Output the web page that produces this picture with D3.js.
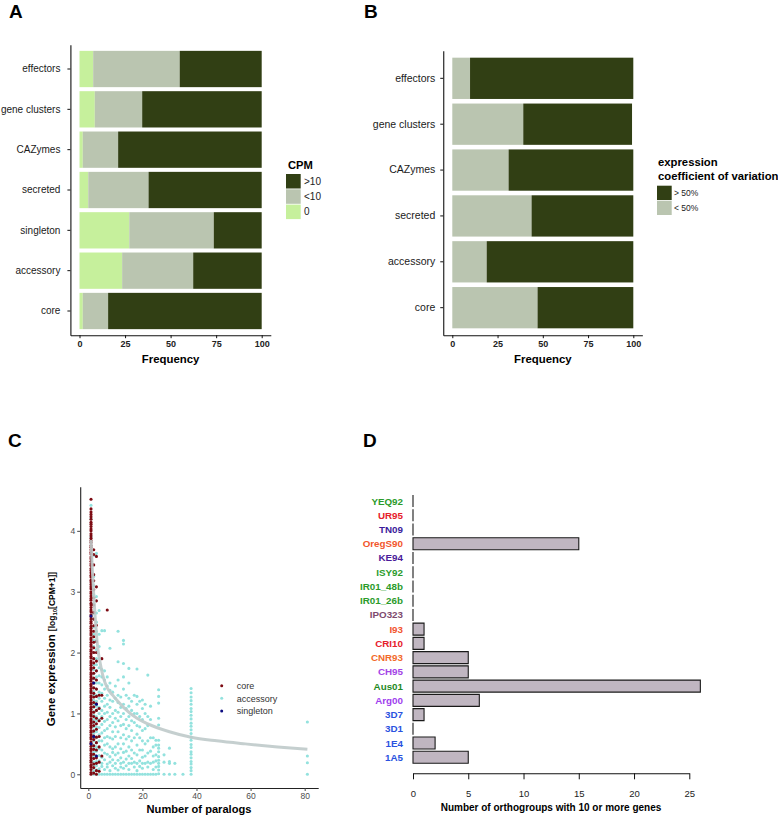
<!DOCTYPE html>
<html><head><meta charset="utf-8">
<script src="https://cdn.jsdelivr.net/npm/d3@7"></script>
<style>
body{margin:0;background:#fff}
svg{display:block}
text{font-family:"Liberation Sans",Arial,Helvetica,sans-serif}
</style>
</head><body>
<svg id="c" width="778" height="817"></svg>
<script>
// ---------------- DATA ----------------
// Panel A
const catsA = ["effectors","gene clusters","CAZymes","secreted","singleton","accessory","core"];
const cpmZero = [7.5, 8.4, 1.8, 4.8, 27.3, 23.4, 1.8];
const cpmLow  = [47.5, 26.0, 19.4, 33.1, 46.4, 39.0, 13.9];
const cpmHigh = [45.0, 65.6, 78.8, 62.1, 26.3, 37.6, 84.3];
const cpmLegend = [">10","<10","0"];
const freqTicks = [0,25,50,75,100];
// Panel B
const catsB = ["effectors","gene clusters","CAZymes","secreted","accessory","core"];
const cvLow  = [9.8, 39.2, 31.1, 43.8, 19.0, 47.1];
const cvHigh = [90.2, 60.1, 68.9, 56.2, 81.0, 52.9];
const cvLegend = ["> 50%","< 50%"];
// Panel C  (x = number of paralogs, y = log10(CPM+1))
const coreCols = [
  [1,[0,0.03,0.08,0.12,0.15,0.2,0.23,0.27,0.31,0.34,0.39,0.42,0.46,0.5,0.53,0.58,0.61,0.65,0.69,0.72,0.77,0.8,0.84,0.88,0.91,0.96,0.99,1.03,1.07,1.1,1.15,1.18,1.22,1.26,1.29,1.34,1.37,1.41,1.45,1.48,1.53,1.56,1.6,1.64,1.67,1.72,1.75,1.79,1.83,1.86,1.91,1.94,1.98,2.02,2.05,2.1,2.13,2.17,2.21,2.24,2.29,2.32,2.36,2.4,2.43,2.48,2.51,2.55,2.59,2.62,2.67,2.7,2.74,2.78,2.81,2.86,2.89,2.93,2.97,3.0,3.05,3.08,3.12,3.16,3.19,3.24,3.27,3.31,3.35,3.38,3.43,3.46,3.5,3.54,3.57,3.62,3.65,3.69,3.73,3.76,3.81,3.84,3.88,3.92,3.95,4.0,4.03,4.07,4.11,4.14,4.19,4.23,4.27,4.31,4.36,4.52]],
  [2,[0.02,0.11,0.17,0.26,0.33,0.41,0.47,0.57,0.63,0.71,0.8,0.86,0.95,1.02,1.11,1.18,1.27,1.33,1.42,1.5,1.58,1.66,1.75,1.83,1.9,2.0,2.08,2.17,2.26,2.35,2.44,2.55,2.66,2.78,2.9,3.03,3.18,3.28,3.44,3.61,3.69]],
  [3,[0,0.06,0.18,0.27,0.4,0.52,0.61,0.74,0.83,0.92,1.05,1.16,1.28,1.4,1.55,1.7,1.86,2.0,2.18,2.45,2.85,3.08,3.58]],
  [4,[0.05,0.2,0.45,0.62,0.88,1.08,1.3]],
  [5,[0.3,0.92,1.3,1.9]],
  [7,[2.7]]
];
const accessoryCols = [
  [1,[4.42,4.2,3.9]],
  [2,[0,0.05,0.1,0.16,0.2,0.27,0.3,0.36,0.43,0.48,0.55,0.6,0.67,0.72,0.78,0.85,0.9,0.97,1.03,1.1,1.15,1.22,1.3,1.36,1.42,1.5,1.57,1.65,1.72,1.8,1.9,2.0,2.1,2.2,2.3,2.42,2.55,2.64,2.8,2.95,3.1,3.25,3.6]],
  [3,[0,0.07,0.14,0.21,0.3,0.38,0.45,0.52,0.6,0.7,0.78,0.88,0.95,1.05,1.12,1.2,1.3,1.4,1.5,1.6,1.7,1.8,1.9,2.05,2.2,2.35,2.5,2.65,2.92,3.63]],
  [4,[0,0.09,0.22,0.31,0.42,0.55,0.65,0.77,0.9,1.0,1.1,1.25,1.35,1.5,1.62,1.75,1.9,2.1,2.3,2.69]],
  [5,[0,0.13,0.18,0.28,0.4,0.55,0.68,0.82,0.95,1.05,1.2,1.33,1.47,1.6,1.72,2.36]],
  [6,[0,0.08,0.24,0.35,0.48,0.6,0.72,0.87,1.0,1.12,1.25,1.4,1.55,1.7,2.36]],
  [7,[0,0.12,0.17,0.33,0.5,0.62,0.75,0.9,1.02,1.15,1.3,1.45,1.6]],
  [8,[0,0.06,0.2,0.29,0.45,0.6,0.8,0.95,1.1,1.22,1.38,1.5,2.07]],
  [9,[0,0.14,0.24,0.36,0.42,0.58,0.7,0.85,1.0,1.2,1.35]],
  [10,[0,0.1,0.18,0.32,0.45,0.62,0.78,0.92,1.05,1.25,1.45]],
  [11,[0,0.07,0.23,0.35,0.5,0.7,0.88,1.02,1.18,1.3,1.55,1.85,2.35]],
  [12,[0,0.12,0.18,0.27,0.42,0.6,0.8,0.95,1.1,1.27]],
  [13,[0,0.1,0.2,0.36,0.5,0.65,0.82,1.0,1.15,1.4,1.6,1.82,2.14,2.2]],
  [14,[0,0.14,0.25,0.38,0.58,0.75,0.9,1.08,1.3]],
  [15,[0,0.08,0.18,0.3,0.45,0.62,0.8,0.95,1.12,1.25,1.5,1.74]],
  [16,[0,0.18,0.26,0.4,0.55,0.72,0.88,1.05,1.2]],
  [17,[0,0.12,0.2,0.35,0.6,0.85,1.0,1.3]],
  [18,[0,0.06,0.18,0.32,0.48,0.66,0.8,1.0,1.15,1.28,1.73]],
  [19,[0,0.13,0.22,0.4,0.6,0.78,0.95,1.2]],
  [20,[0,0.1,0.18,0.28,0.4,0.55,0.72,0.9,1.08,1.22]],
  [21,[0,0.18,0.3,0.5,0.75,1.0,1.15]],
  [22,[0,0.12,0.2,0.35,0.55,0.8,0.95,1.63]],
  [23,[0,0.18,0.38,0.6,0.9,1.12]],
  [24,[0,0.08,0.2,0.3,0.45,0.6]],
  [25,[0,0.12,0.22,0.32,0.48,0.56]],
  [26,[0.01,0.07,0.13,0.18,0.23,0.29,0.37,0.43,0.48,0.56,0.81,0.92,1.17,1.28,1.39]],
  [28,[0,0.2,0.32]],
  [30,[0,0.18,0.21,0.43]],
  [32,[0,0.18]],
  [35,[0]],
  [38,[0,0.06,0.11,0.17,0.21,0.27,0.33,0.37,0.44,0.49,0.56,0.61,0.67,0.73,0.79,0.84,0.91,0.97,1.03,1.08,1.15,1.21,1.27,1.34,1.41]],
  [81,[0,0.19,0.3,0.86]]
];
const singletonCols = [[1,[0.5,2.6]],[2,[0.62,1.5]],[3,[0.3,1.15]]];
const trend = [[1,3.85],[1.5,3.35],[2,2.95],[2.5,2.6],[3,2.3],[3.7,2.0],[4.3,1.85],[5.5,1.6],[7,1.42],[9,1.3],[10.5,1.22],[13,1.1],[18,0.92],[22,0.83],[30,0.7],[38,0.61],[47.5,0.55],[58,0.5],[70,0.45],[81,0.41]];
const groupsC = ["core","accessory","singleton"];
const xTicksC = [0,20,40,60,80];
const yTicksC = [0,1,2,3,4];
// Panel D
const isolates = ["YEQ92","UR95","TN09","OregS90","KE94","ISY92","IR01_48b","IR01_26b","IPO323","I93","CRI10","CNR93","CH95","Aus01","Arg00","3D7","3D1","1E4","1A5"];
const orthoCounts = [0,0,0,15,0,0,0,0,0,1,1,5,5,26,6,1,0,2,5];
const isolateColors = ["#2b9b2b","#e6202a","#3b1b9c","#f2562c","#4a1a9a","#2b9b2b","#2b9b2b","#2b9b2b","#7e4a6e","#f2552f","#e6202a","#f26a2b","#a343e6","#1f8a1f","#a040ee","#2a52e0","#2a52e0","#2a52e0","#2a52e0"];
const xTicksD = [0,5,10,15,20,25];

// ---------------- DRAW ----------------
const svg = d3.select("#c");
const DARK = "#313f14", GREY = "#bac5b0", LIGHT = "#c6f09c";

const letters = [["A",9,18],["B",364,18],["C",8,447],["D",363,447]];
svg.selectAll("text.letter").data(letters).join("text")
  .attr("class","letter").attr("x",d=>d[1]).attr("y",d=>d[2])
  .attr("font-size",19).attr("font-weight","bold").text(d=>d[0]);

function styleAxis(g, color, size, weight, fill){
  g.selectAll("path.domain").attr("stroke",color).attr("stroke-width",1.1);
  g.selectAll(".tick line").attr("stroke",color).attr("stroke-width",1);
  g.selectAll(".tick text").attr("font-size",size).attr("font-weight",weight)
    .attr("fill",fill).attr("font-family",'"Liberation Sans",Arial,sans-serif');
}

function stackPanel(cats, series, colors, xr, yr, labelSize, labelPad){
  const g = svg.append("g");
  const x = d3.scaleLinear().domain([-5,105]).range(xr);
  const y = d3.scaleBand().domain(cats).range(yr).paddingInner(0.1).paddingOuter(0.15);
  const rows = cats.map((c,i)=>{
    let acc = 0;
    return series.map((s,k)=>{ const r={c,x0:acc,x1:acc+s[i],k}; acc+=s[i]; return r; });
  }).flat();
  g.selectAll("rect").data(rows).join("rect")
    .attr("x",d=>x(d.x0)).attr("width",d=>x(d.x1)-x(d.x0))
    .attr("y",d=>y(d.c)).attr("height",y.bandwidth())
    .attr("fill",d=>colors[d.k]);
  const ax = g.append("g").attr("transform",`translate(0,${yr[1]})`)
    .call(d3.axisBottom(x).tickValues(freqTicks).tickSize(3).tickPadding(2.7).tickSizeOuter(0));
  styleAxis(ax,"#111",9,"bold","#222");
  const ay = g.append("g").attr("transform",`translate(${xr[0]},0)`)
    .call(d3.axisLeft(y).tickSize(3).tickPadding(labelPad).tickSizeOuter(0));
  styleAxis(ay,"#111",labelSize,"normal","#1a1a1a");
  g.append("text").attr("x",(xr[0]+xr[1])/2).attr("y",363).attr("text-anchor","middle")
    .attr("font-size",11.4).attr("font-weight","bold").text("Frequency");
  return g;
}

// Panel A
stackPanel(catsA,[cpmZero,cpmLow,cpmHigh],[LIGHT,GREY,DARK],[70.4,270.8],[44.8,335.2],10,7);
const legA = svg.append("g");
legA.append("text").attr("x",288).attr("y",168.5).attr("font-size",11.2).attr("font-weight","bold").text("CPM");
const legAcol = [DARK,GREY,LIGHT];
legA.selectAll("rect").data(cpmLegend).join("rect")
  .attr("x",286).attr("y",(d,i)=>174+i*15.3).attr("width",14.7).attr("height",14.5)
  .attr("fill",(d,i)=>legAcol[i]);
legA.selectAll("text.l").data(cpmLegend).join("text").attr("class","l")
  .attr("x",304).attr("y",(d,i)=>181.3+i*15.3+3.5).attr("font-size",10).attr("fill","#222").text(d=>d);

// Panel B
stackPanel(catsB,[cvLow,cvHigh],[GREY,DARK],[443.25,642.35],[50.8,335.2],10.5,5);
const legB = svg.append("g");
legB.append("text").attr("x",658).attr("y",166).attr("font-size",11.3).attr("font-weight","bold").text("expression");
legB.append("text").attr("x",658).attr("y",179.5).attr("font-size",11.3).attr("font-weight","bold").text("coefficient of variation");
const legBcol = [DARK,GREY];
legB.selectAll("rect").data(cvLegend).join("rect")
  .attr("x",657).attr("y",(d,i)=>185.7+i*15).attr("width",14.7).attr("height",14.3)
  .attr("fill",(d,i)=>legBcol[i]);
legB.selectAll("text.l").data(cvLegend).join("text").attr("class","l")
  .attr("x",674).attr("y",(d,i)=>192.8+i*15+3).attr("font-size",8.5).attr("fill","#222").text(d=>d);

// Panel C
const gC = svg.append("g");
const xC = d3.scaleLinear().domain([-3,85]).range([80.2,318.2]);
const yC = d3.scaleLinear().domain([-0.225,4.725]).range([788,486.7]);
const colC = {core:"#7d0b13",accessory:"#93e2de",singleton:"#0b0b80"};
const flat = cols => cols.flatMap(([x,ys])=>ys.map(y=>[x,y]));
const ptsC = [
  ...flat(accessoryCols).map(p=>({p,g:"accessory"})),
  ...flat(coreCols).map(p=>({p,g:"core"})),
  ...flat(singletonCols).map(p=>({p,g:"singleton"}))
];
gC.selectAll("circle.pt").data(ptsC).join("circle").attr("class","pt")
  .attr("cx",d=>xC(d.p[0])).attr("cy",d=>yC(d.p[1])).attr("r",1.55)
  .attr("fill",d=>colC[d.g]);
gC.append("path").datum(trend)
  .attr("d",d3.line().x(d=>xC(d[0])).y(d=>yC(d[1])).curve(d3.curveMonotoneX))
  .attr("fill","none").attr("stroke","#bfcaca").attr("stroke-width",3).attr("stroke-opacity",0.9);
const axC = gC.append("g").attr("transform","translate(0,788)")
  .call(d3.axisBottom(xC).tickValues(xTicksC).tickSize(3).tickPadding(1.5).tickSizeOuter(0));
styleAxis(axC,"#222",8.5,"normal","#4d4d4d");
axC.selectAll(".tick line").attr("stroke","#444");
const ayC = gC.append("g").attr("transform","translate(80.2,0)")
  .call(d3.axisLeft(yC).tickValues(yTicksC).tickFormat(d3.format("d")).tickSize(3).tickPadding(2).tickSizeOuter(0));
styleAxis(ayC,"#222",8.5,"normal","#4d4d4d");
ayC.selectAll(".tick line").attr("stroke","#444");
gC.append("text").attr("x",199).attr("y",813).attr("text-anchor","middle")
  .attr("font-size",11.1).attr("font-weight","bold").text("Number of paralogs");
const yt = gC.append("text").attr("transform","translate(55,649) rotate(-90)")
  .attr("text-anchor","middle").attr("font-weight","bold");
yt.append("tspan").attr("font-size",11.4).text("Gene expression ");
yt.append("tspan").attr("font-size",8.5).text("[log");
yt.append("tspan").attr("font-size",6).attr("dy",1.5).text("10");
yt.append("tspan").attr("font-size",8.5).attr("dy",-1.5).text("[CPM+1]]");
const legC = gC.append("g");
legC.selectAll("circle").data(groupsC).join("circle")
  .attr("cx",221.7).attr("cy",(d,i)=>685.7+i*12.65).attr("r",1.5).attr("fill",d=>colC[d]);
legC.selectAll("text").data(groupsC).join("text")
  .attr("x",236.7).attr("y",(d,i)=>685.7+i*12.65+3.2).attr("font-size",9).attr("fill","#333").text(d=>d);

// Panel D
const gD = svg.append("g");
const xD = d3.scaleLinear().domain([0,25]).range([413,689.3]);
const yD = d3.scalePoint().domain(isolates).range([501,757.3]);
const bh = 12;
gD.selectAll("path.bar").data(isolates).join("path").attr("class","bar")
  .attr("d",(d,i)=>{
    const x0 = xD(0), w = xD(orthoCounts[i]) - xD(0), y0 = yD(d) - bh/2;
    return `M${x0},${y0}h${w}v${bh}h${-w}Z`;
  })
  .attr("fill","#c0b6c1").attr("stroke","#1a1a1a").attr("stroke-width",1.1);
gD.selectAll("text.lab").data(isolates).join("text").attr("class","lab")
  .attr("x",403).attr("y",d=>yD(d)+3.5).attr("text-anchor","end")
  .attr("font-size",9.8).attr("font-weight","bold")
  .attr("fill",(d,i)=>isolateColors[i]).text(d=>d);
const axD = gD.append("g").attr("transform","translate(0,773.3)")
  .call(d3.axisBottom(xD).tickValues(xTicksD).tickSize(6).tickPadding(10.5).tickSizeOuter(0));
styleAxis(axD,"#111",9.5,"normal","#222");
gD.append("text").attr("x",551).attr("y",811).attr("text-anchor","middle")
  .attr("font-size",10).attr("font-weight","bold").text("Number of orthogroups with 10 or more genes");
</script>
</body></html>
